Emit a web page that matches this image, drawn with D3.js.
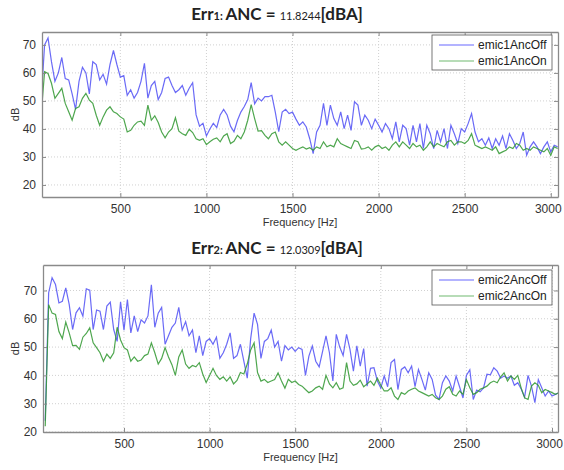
<!DOCTYPE html>
<html lang="en">
<head>
    <meta charset="UTF-8">
    <script src="https://d3js.org/d3.v7.min.js" charset="utf-8"></script>
    <title>ANC spectra</title>
    <style>
        body { margin: 0; background: white; }
        svg { display: block; }
    </style>
</head>
<body>
    <div id="chart"></div>

    <script>
        const width = 564;
        const height = 470;

        // frequency grid [Hz]
        const freq = [40, 60, 80, 100, 120, 140, 160, 180, 200, 220, 240, 260, 280, 300, 320, 340, 360, 380, 400, 420,
            440, 460, 480, 500, 520, 540, 560, 580, 600, 620, 640, 660, 680, 700, 720, 740, 760, 780, 800, 820,
            840, 860, 880, 900, 920, 940, 960, 980, 1000, 1020, 1040, 1060, 1080, 1100, 1120, 1140, 1160, 1180, 1200, 1220,
            1240, 1260, 1280, 1300, 1320, 1340, 1360, 1380, 1400, 1420, 1440, 1460, 1480, 1500, 1520, 1540, 1560, 1580, 1600, 1620,
            1640, 1660, 1680, 1700, 1720, 1740, 1760, 1780, 1800, 1820, 1840, 1860, 1880, 1900, 1920, 1940, 1960, 1980, 2000, 2020,
            2040, 2060, 2080, 2100, 2120, 2140, 2160, 2180, 2200, 2220, 2240, 2260, 2280, 2300, 2320, 2340, 2360, 2380, 2400, 2420,
            2440, 2460, 2480, 2500, 2520, 2540, 2560, 2580, 2600, 2620, 2640, 2660, 2680, 2700, 2720, 2740, 2760, 2780, 2800, 2820,
            2840, 2860, 2880, 2900, 2920, 2940, 2960, 2980, 3000, 3020, 3040];

        // Err1
        const emic1AncOff = [50, 70, 72.5, 64, 57, 60, 65.5, 58, 57.5, 52.5, 47, 57, 62, 60, 52.5, 64, 63, 57.5, 59.5, 56,
            63, 68, 63, 58.5, 59, 52, 54, 51, 53, 57, 63.4, 51, 55.5, 57, 50.5, 53, 58, 58.5, 55.5, 53,
            54, 55.5, 52, 54.5, 56.5, 45, 41, 42, 37.5, 40, 42, 40.5, 45, 47, 45, 41, 39, 43, 46, 48,
            50.5, 56.5, 49, 51, 50, 51.5, 51.5, 52, 46, 39, 46, 47, 45.5, 46, 43.5, 41.3, 42.5, 40.7, 36.5, 31.2,
            38.9, 41.3, 49.1, 41.3, 48.5, 43.7, 41.3, 46.1, 40.1, 44.9, 39.5, 49.7, 48.5, 41.3, 44.9, 43.1, 40.1, 43.5, 41.3, 38.9,
            41.9, 40.1, 36.5, 42.5, 35.4, 41.3, 40.1, 34.2, 41.3, 35.4, 41.9, 33.0, 41.3, 38.3, 33.0, 39.5, 35.4, 40.1, 33.0, 41.3,
            38.3, 34.8, 40.1, 38.9, 41.9, 45.5, 38.9, 35.4, 36.5, 34.2, 36.8, 33.0, 36.5, 34.2, 37.5, 33.0, 38.3, 35.9, 33.0, 34.8,
            38.9, 30.6, 33.6, 35.4, 33.6, 31.2, 33.6, 35.4, 31.8, 34.2, 33.6];
        const emic1AncOn = [45, 60.4, 59.8, 56.3, 50.9, 52.7, 54.5, 49.1, 46.1, 43.1, 47.3, 47.9, 50.9, 52.7, 50.3, 49.1, 44.9, 41.3, 44.3, 46.7,
            47.9, 46.1, 45.5, 44.3, 43.5, 38.9, 39.5, 41.3, 42.5, 42.8, 41.3, 48.5, 43.1, 44.7, 42.3, 38.9, 36.8, 38.9, 40.1, 44.0,
            39.2, 38.3, 37.7, 39.9, 38.7, 36.5, 35.9, 36.5, 34.4, 35.4, 36.3, 36.8, 35.4, 37.5, 38.3, 34.8, 35.6, 37.7, 36.5, 38.9,
            43.1, 48.7, 43.7, 39.2, 39.4, 37.7, 36.5, 38.3, 38.9, 35.4, 34.2, 35.4, 34.2, 33.0, 32.4, 33.0, 33.6, 32.8, 33.3, 32.4,
            33.6, 33.0, 35.4, 33.6, 34.2, 33.6, 36.5, 34.8, 34.2, 33.6, 33.0, 35.9, 35.4, 32.8, 33.0, 33.6, 32.4, 33.6, 34.2, 33.0,
            33.6, 32.4, 34.2, 35.4, 33.6, 35.4, 34.2, 33.0, 34.8, 33.6, 34.2, 32.4, 33.6, 35.4, 33.6, 34.8, 34.2, 33.6, 35.4, 35.9,
            34.2, 35.4, 35.4, 34.8, 35.9, 38.3, 34.2, 33.6, 33.0, 33.6, 33.0, 32.4, 33.6, 31.2, 31.8, 32.4, 33.6, 33.0, 34.8, 34.2,
            32.4, 33.0, 32.4, 33.6, 33.0, 32.4, 31.8, 33.0, 30.6, 33.6, 33.0];

        // Err2
        const emic2AncOff = [24, 69.2, 74.5, 72.1, 65.6, 66.2, 70.9, 65.1, 56.2, 62.1, 63.9, 60.9, 70.6, 70.1, 56.2, 63.1, 62.7, 56.2, 64.5, 65.9,
            56.2, 52, 66, 56, 66.8, 55, 61, 55.5, 59.6, 58.5, 61, 72, 57, 62, 64, 51, 54, 57, 58.5, 64,
            56, 59, 54, 56, 48, 54, 47, 52, 53, 51, 53.5, 46, 48, 51, 55, 46, 47, 51, 45, 39,
            53, 62, 58, 46, 52, 53, 56, 50, 52, 45, 50.5, 49, 50, 48.5, 49.8, 49.2, 40, 46.8, 50.4, 45,
            43, 48.5, 54, 48, 38, 54.5, 50, 47, 54.5, 49.2, 41.5, 50.4, 43.3, 49.5, 36.2, 42.5, 42.7, 38, 35.5, 39.8,
            36, 44.5, 45.6, 35, 42.1, 43, 40.9, 43.3, 36, 42.1, 38.6, 34.8, 40.9, 38.6, 33, 31.5, 37.4, 39.8, 38, 34.5,
            39.8, 36, 32, 40, 42, 31.5, 34.8, 34.2, 35.6, 40.4, 40.2, 42.7, 41.5, 39, 39.8, 39, 39.8, 36.5, 37.4, 35.2,
            32.3, 40, 36.2, 30.4, 38.5, 35.6, 32.7, 34.5, 32.7, 33.3, 33.9];
        const emic2AncOn = [22, 65, 62, 61.5, 55.5, 53, 58.8, 55, 50.5, 50.6, 49.2, 53.5, 54.8, 56.8, 51.5, 49.8, 48, 45, 47.5, 46,
            48, 57, 52.5, 49.8, 49, 45, 46.5, 45, 45.4, 47, 47.5, 51.5, 48, 44, 46, 49.8, 46.5, 43.8, 40, 46.5,
            49, 44, 42.5, 43.5, 43, 44.5, 40.5, 37.5, 40, 42.5, 40, 38.6, 39.5, 38, 39.5, 37, 38.2, 41, 40.5, 44,
            49, 51.5, 41, 38, 38.6, 37.5, 38, 38.5, 40.9, 38, 35.5, 38.6, 37.5, 38, 36.8, 36.2, 35, 33.9, 34.5, 35.6,
            36.2, 35.1, 40, 37, 35.6, 37.4, 35.1, 35.6, 44.5, 38, 36.5, 37, 38.3, 36, 37, 38, 36.5, 39, 36.5, 34.5,
            34.5, 35.6, 32.7, 31.5, 33.9, 33.3, 34.5, 35.1, 35.6, 34.5, 33.9, 33.3, 32.7, 33.3, 32.1, 31.5, 32.7, 35.1, 36, 33.3,
            32.7, 34.5, 33.3, 38.5, 35.6, 33.3, 33.9, 35.1, 35.6, 36.2, 37.4, 38, 37.4, 39.5, 40.9, 38, 39.8, 38.6, 40, 35.5,
            32.1, 31.5, 36.2, 37.4, 36.5, 33.9, 35, 34.5, 33.9, 33.3, 33.9];

        const xTicks = [500, 1000, 1500, 2000, 2500, 3000];
        const yTicks = [20, 30, 40, 50, 60, 70];

        const svg = d3.select("#chart").append("svg")
            .attr("width", width)
            .attr("height", height);

        const drawPanel = (cfg) => {
            const x = d3.scaleLinear().domain(cfg.xDomain).range([cfg.left, cfg.right]);
            const y = d3.scaleLinear().domain(cfg.yDomain).range([cfg.bottom, cfg.top]);
            const g = svg.append("g");

            // title with the small number parts
            const title = g.append("text")
                .attr("x", 277)
                .attr("y", cfg.titleY)
                .attr("text-anchor", "middle")
                .style("font-family", "Lato, 'Open Sans', sans-serif")
                .style("font-weight", "bold")
                .style("fill", "#222");
            title.append("tspan").style("font-size", "17px").text("Err");
            title.append("tspan").style("font-size", "11px").text(cfg.idx + ": ");
            title.append("tspan").style("font-size", "17px").text("ANC = ");
            title.append("tspan").style("font-size", "11px").style("font-weight", "normal").text(cfg.value);
            title.append("tspan").style("font-size", "17px").text("[dBA]");

            // grid
            g.append("g").selectAll("line").data(xTicks).join("line")
                .attr("x1", d => x(d)).attr("x2", d => x(d))
                .attr("y1", cfg.top).attr("y2", cfg.bottom)
                .attr("stroke", "#d0d0d0").attr("stroke-dasharray", "1,2");
            g.append("g").selectAll("line").data(yTicks).join("line")
                .attr("x1", cfg.left).attr("x2", cfg.right)
                .attr("y1", d => y(d)).attr("y2", d => y(d))
                .attr("stroke", "#d0d0d0").attr("stroke-dasharray", "1,2");

            // clip for traces
            const clipId = "clip" + cfg.idx;
            svg.append("clipPath").attr("id", clipId).append("rect")
                .attr("x", cfg.left).attr("y", cfg.top)
                .attr("width", cfg.right - cfg.left).attr("height", cfg.bottom - cfg.top);

            const line = d3.line()
                .x((d, i) => x(freq[i]))
                .y(d => y(d));

            const traces = g.append("g").attr("clip-path", `url(#${clipId})`);
            traces.append("path").datum(cfg.off)
                .attr("d", line)
                .attr("fill", "none")
                .attr("stroke", "#5050f5")
                .attr("stroke-width", 1.2)
                .attr("stroke-opacity", 0.85);
            traces.append("path").datum(cfg.on)
                .attr("d", line)
                .attr("fill", "none")
                .attr("stroke", "#2f962f")
                .attr("stroke-width", 1.2)
                .attr("stroke-opacity", 0.85);

            // axes, ticks on all four sides pointing inward
            const xAxisB = d3.axisBottom(x).tickValues(xTicks).tickFormat(d3.format("d"))
                .tickSizeInner(-4).tickSizeOuter(0).tickPadding(7);
            const xAxisT = d3.axisTop(x).tickValues(xTicks).tickSizeInner(-4).tickSizeOuter(0).tickFormat("");
            const yAxisL = d3.axisLeft(y).tickValues(yTicks).tickSizeInner(-4).tickSizeOuter(0).tickPadding(6);
            const yAxisR = d3.axisRight(y).tickValues(yTicks).tickSizeInner(-4).tickSizeOuter(0).tickFormat("");

            const axes = [
                g.append("g").attr("transform", `translate(0,${cfg.bottom})`).call(xAxisB),
                g.append("g").attr("transform", `translate(0,${cfg.top})`).call(xAxisT),
                g.append("g").attr("transform", `translate(${cfg.left},0)`).call(yAxisL),
                g.append("g").attr("transform", `translate(${cfg.right},0)`).call(yAxisR)
            ];
            axes.forEach(a => {
                a.select(".domain").attr("stroke", "#8a8a8a").attr("stroke-width", 1.3);
                a.selectAll(".tick line").attr("stroke", "#8a8a8a");
                a.selectAll("text")
                    .style("font-family", "'Liberation Sans', Arial, sans-serif")
                    .style("font-size", "12px")
                    .style("fill", "#333");
            });
            // keep the last label inside the window
            axes[0].selectAll(".tick text").filter(d => d === 3000).attr("dx", -3);

            // axis labels
            g.append("text")
                .attr("x", (cfg.left + cfg.right) / 2)
                .attr("y", cfg.bottom + 29)
                .attr("text-anchor", "middle")
                .style("font-family", "'Liberation Sans', Arial, sans-serif")
                .style("font-size", "11px")
                .style("fill", "#333")
                .text("Frequency [Hz]");
            g.append("text")
                .attr("transform", `translate(19,${(cfg.top + cfg.bottom) / 2}) rotate(-90)`)
                .attr("text-anchor", "middle")
                .style("font-family", "'Liberation Sans', Arial, sans-serif")
                .style("font-size", "11px")
                .style("fill", "#333")
                .text("dB");

            // legend
            const lg = g.append("g").attr("transform", `translate(${cfg.legend[0]},${cfg.legend[1]})`);
            lg.append("rect")
                .attr("width", 120).attr("height", 35)
                .attr("fill", "white").attr("stroke", "#555").attr("stroke-width", 0.8);
            const items = [["emic" + cfg.idx + "AncOff", "#9a9aff"], ["emic" + cfg.idx + "AncOn", "#9fd09f"]];
            items.forEach((it, i) => {
                lg.append("line")
                    .attr("x1", 7).attr("x2", 42)
                    .attr("y1", 10 + i * 16).attr("y2", 10 + i * 16)
                    .attr("stroke", it[1]).attr("stroke-width", 1.5);
                lg.append("text")
                    .attr("x", 46).attr("y", 14 + i * 16)
                    .style("font-family", "'Liberation Sans', Arial, sans-serif")
                    .style("font-size", "12px")
                    .style("fill", "#222")
                    .text(it[0]);
            });
        };

        drawPanel({
            idx: 1, value: "11.8244", titleY: 20,
            left: 42, right: 558, top: 32, bottom: 197,
            xDomain: [45, 3042], yDomain: [15.7, 74.6],
            off: emic1AncOff, on: emic1AncOn,
            legend: [432, 35]
        });

        drawPanel({
            idx: 2, value: "12.0309", titleY: 254,
            left: 43, right: 558, top: 265, bottom: 432,
            xDomain: [27, 3035], yDomain: [20, 79],
            off: emic2AncOff, on: emic2AncOn,
            legend: [432, 270]
        });
    </script>
</body>
</html>
